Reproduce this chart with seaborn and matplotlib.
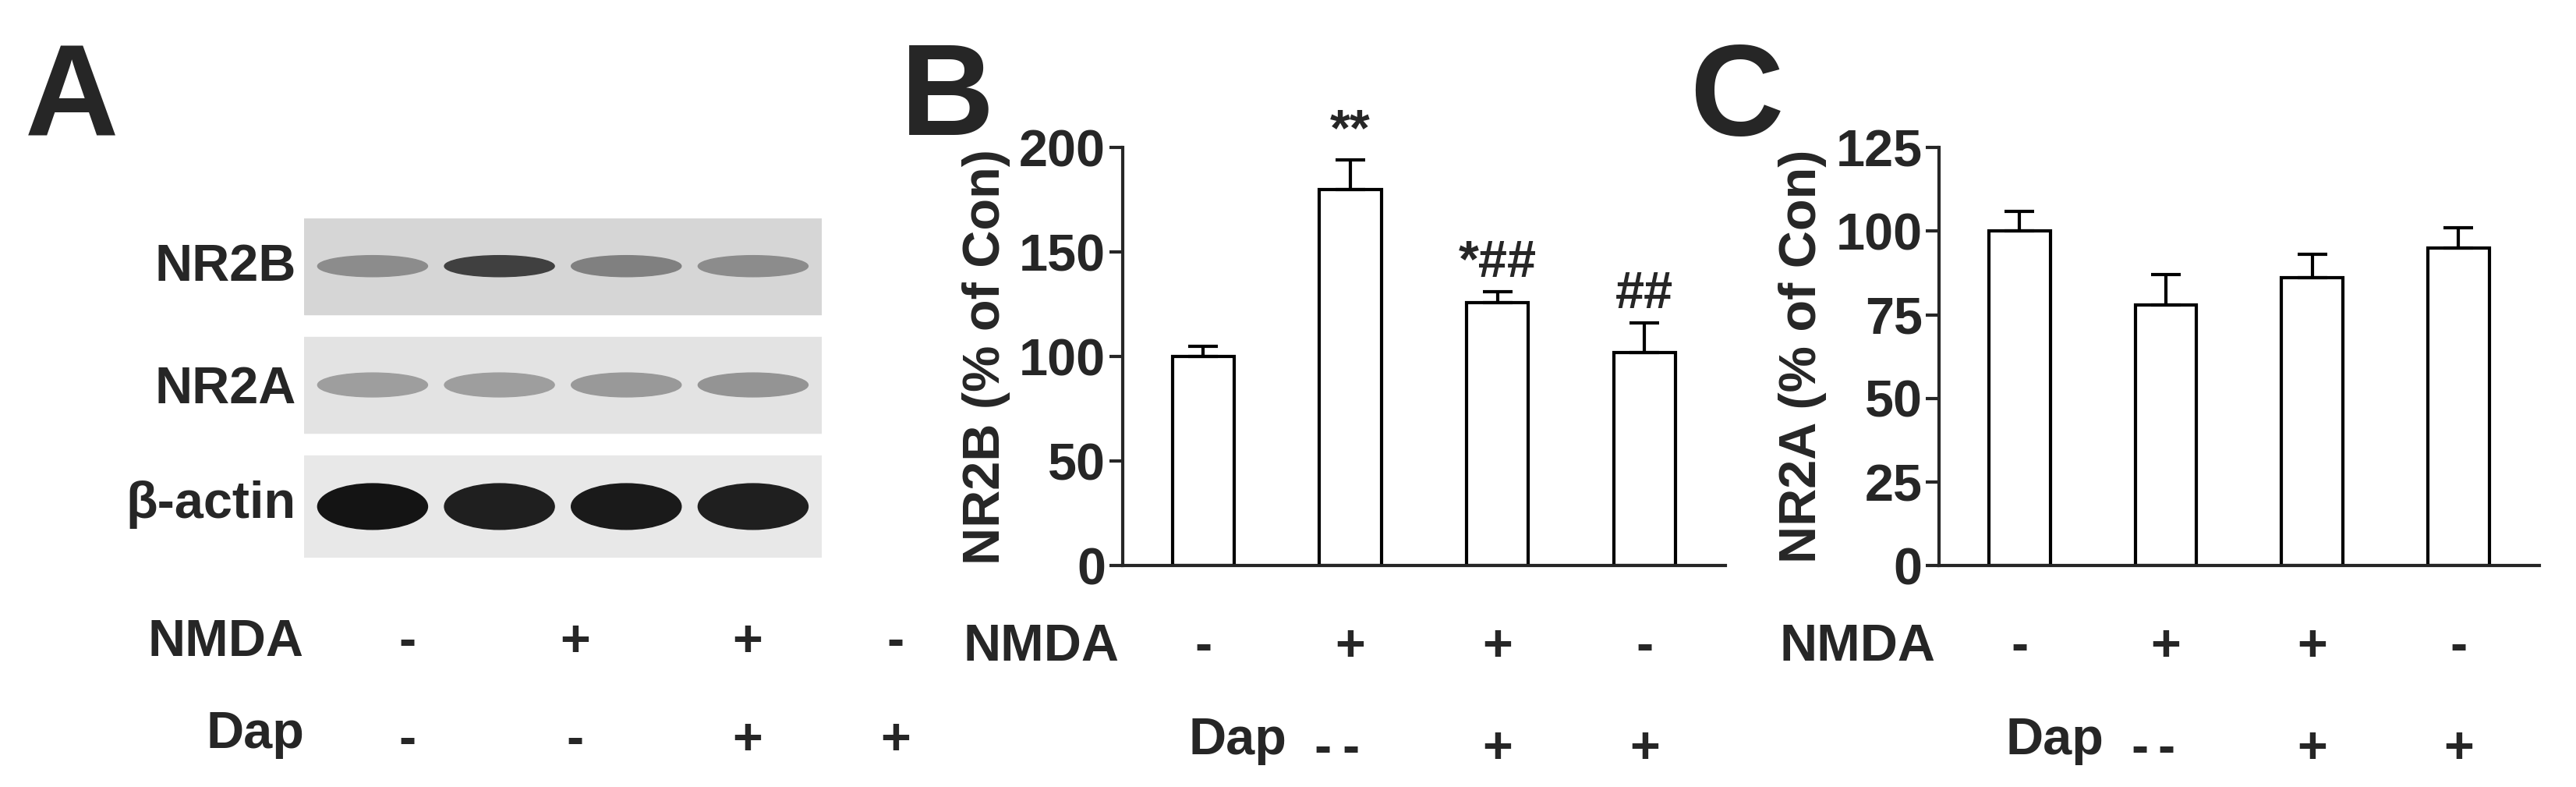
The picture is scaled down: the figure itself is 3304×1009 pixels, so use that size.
import numpy as np
import pandas as pd
import seaborn as sns
import matplotlib.pyplot as plt
from matplotlib.patches import Ellipse, Rectangle

sns.set_style("ticks")
plt.rcParams['font.family'] = ['Liberation Sans', 'DejaVu Sans']
plt.rcParams['font.weight'] = 'bold'

groups = ["Con", "NMDA", "NMDA+Dap", "Dap"]
nmda_signs = ["-", "+", "+", "-"]
dap_signs = ["-", "-", "+", "+"]
nr2b_mean = [100, 180, 126, 102]
nr2b_sem = [5, 14, 5, 14]
nr2b_marks = ["", "**", "*##", "##"]
nr2a_mean = [100, 78, 86, 95]
nr2a_sem = [6, 9, 7, 6]
blot_rows = ["NR2B", "NR2A", "β-actin"]
blot_bg = [0.84, 0.89, 0.91]
band_dark = [[0.55, 0.25, 0.50, 0.55], [0.62, 0.62, 0.60, 0.58], [0.08, 0.12, 0.10, 0.12]]

W, H = 1568, 480
fig = plt.figure(figsize=(33.05, 10.09), dpi=100)

def fx(x): return x / W
def fy(y): return 1 - y / H

fs = 48
# ---- panel A blot
axA = fig.add_axes([fx(185), fy(340), fx(500) - fx(185), fy(133) - fy(340)])
axA.set_xlim(0, 4); axA.set_ylim(3, 0); axA.axis("off")
row_y = [(0, 0.85), (1.05, 1.9), (2.1, 3.0)]
band_h = [0.22, 0.25, 0.45]
for r, (y0, y1) in enumerate(row_y):
    g = blot_bg[r]
    axA.add_patch(Rectangle((0, y0), 4, y1 - y0, color=(g, g, g)))
    for i, d in enumerate(band_dark[r]):
        axA.add_patch(Ellipse(((i + 0.5) * 0.98 + 0.04, (y0 + y1) / 2), 0.85,
                              (y1 - y0) * band_h[r], color=(d, d, d)))
fig.text(fx(15), fy(62), "A", fontsize=120, fontweight="bold", va="center")
for r, yc in enumerate([163, 238, 308]):
    fig.text(fx(180), fy(yc), blot_rows[r], fontsize=fs, ha="right", va="center")
lanes_px = [248, 350, 455, 545]
fig.text(fx(185), fy(392), "NMDA", fontsize=fs, ha="right", va="center")
fig.text(fx(185), fy(448), "Dap", fontsize=fs, ha="right", va="center")
for i, xp in enumerate(lanes_px):
    fig.text(fx(xp), fy(392), nmda_signs[i], fontsize=fs, ha="center", va="center")
    fig.text(fx(xp), fy(452), dap_signs[i], fontsize=fs, ha="center", va="center")

def bar_panel(left, right, means, sems, ymax, step, ylabel, letter, letter_x, marks=None):
    ax = fig.add_axes([fx(left), fy(345), fx(right) - fx(left), fy(90) - fy(345)])
    df = pd.DataFrame({"g": groups, "v": means})
    sns.barplot(data=df, x="g", y="v", ax=ax, color="white", edgecolor="black",
                linewidth=3, width=0.42, errorbar=None)
    ax.errorbar(range(4), means, yerr=[np.zeros(4), sems], fmt="none",
                ecolor="black", elinewidth=3, capsize=14, capthick=3)
    ax.set_ylim(0, ymax)
    ax.set_xlim(-0.55, 3.55)
    ax.set_yticks(np.arange(0, ymax + 1, step))
    ax.tick_params(axis="y", labelsize=fs, width=3, length=12)
    ax.set_xticks([])
    ax.set_xlabel("")
    ax.set_ylabel(ylabel, fontsize=fs, fontweight="bold", labelpad=8)
    for s in ["top", "right"]:
        ax.spines[s].set_visible(False)
    for s in ["left", "bottom"]:
        ax.spines[s].set_linewidth(3)
    if marks:
        for i, m in enumerate(marks):
            ax.text(i, means[i] + sems[i] + 2, m, fontsize=fs, ha="center", va="bottom")
    fig.text(fx(letter_x), fy(62), letter, fontsize=120, fontweight="bold", va="center")
    fig.text(fx(left - 2), fy(395), "NMDA", fontsize=fs, ha="right", va="center")
    fig.text(fx(left + 100), fy(452), "Dap", fontsize=fs, ha="right", va="center")
    for i in range(4):
        xd = ax.transData.transform((i, 0))[0]
        xf = fig.transFigure.inverted().transform((xd, 0))[0]
        fig.text(xf, fy(395), nmda_signs[i], fontsize=fs, ha="center", va="center")
        xdap = max(xf, fx(left + 122))
        fig.text(xdap, fy(457), dap_signs[i], fontsize=fs, ha="center", va="center")
    return ax

bar_panel(683, 1050, nr2b_mean, nr2b_sem, 200, 50, "NR2B (% of Con)", "B", 548, nr2b_marks)
bar_panel(1180, 1545, nr2a_mean, nr2a_sem, 125, 25, "NR2A (% of Con)", "C", 1028)

fig.savefig("out.png", dpi=100)
